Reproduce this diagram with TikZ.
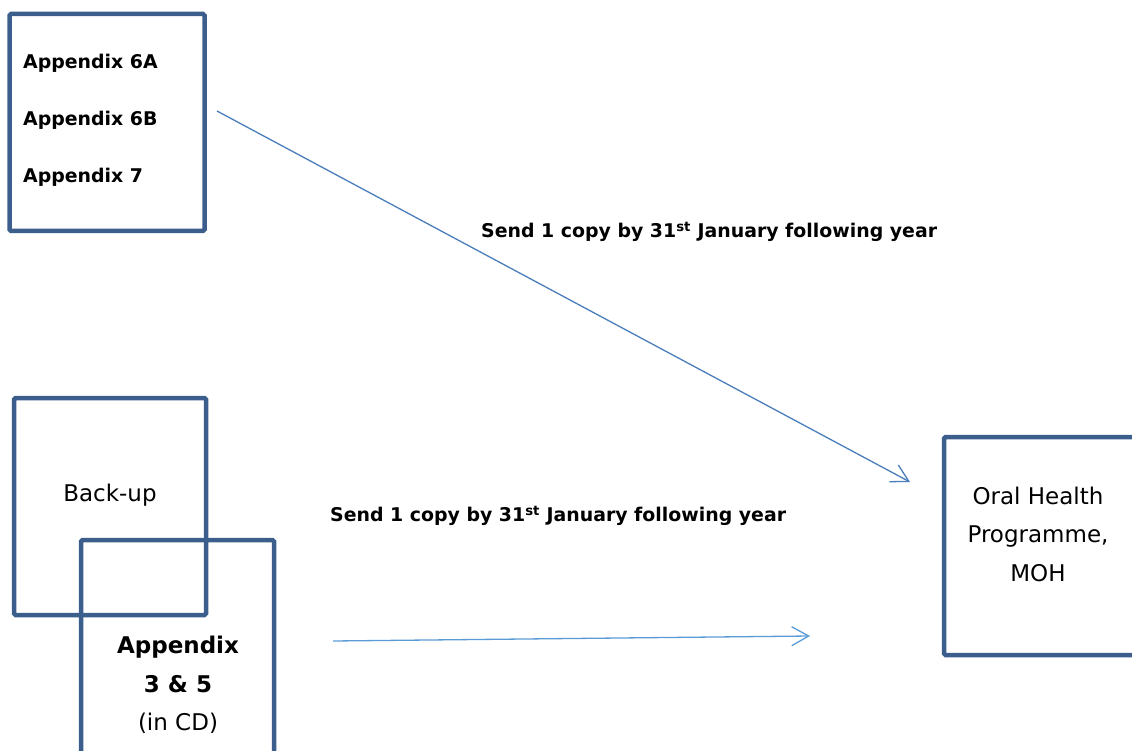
\documentclass[tikz,border=0pt]{standalone}
\usepackage{fontspec}
\setmainfont{DejaVu Sans}
\usetikzlibrary{arrows.meta}
\definecolor{boxblue}{HTML}{3B5E8C}
\definecolor{arrowblue}{HTML}{4A7EBB}
\definecolor{arrowlight}{HTML}{5B9BD5}
\tikzset{
  frame/.style={draw=boxblue, line width=4.5pt, rounded corners=1.5pt, inner sep=0pt},
  smallbold/.style={font=\fontsize{18.9}{22}\selectfont\bfseries, inner sep=0pt},
  bigtext/.style={font=\fontsize{23}{38.5}\selectfont, inner sep=0pt, align=center},
  sendarrow/.style={line width=1.3pt, -{Straight Barb[length=17pt,width=19pt]}},
}
\begin{document}
\begin{tikzpicture}[x=1pt,y=-1pt]
\useasboundingbox (0,0) rectangle (1132,751);
\clip (0,0) rectangle (1132,751);

% source box with the three appendices
\node[frame, minimum width=195pt, minimum height=217pt] (src) at (107,122.5) {};
\node[smallbold, anchor=west] (a6a) at (23,63) {Appendix 6A};
\node[smallbold, anchor=west] (a6b) at (23,120) {Appendix 6B};
\node[smallbold, anchor=west] (a7) at (23,177) {Appendix 7};

% back-up and CD boxes
\node[frame, minimum width=192pt, minimum height=217pt] (backup) at (110,506.5) {};
\node[bigtext] (backuptxt) at (110,495) {Back-up};
\node[frame, minimum width=193pt, minimum height=260pt] (cd) at (177.5,670) {};
\node[bigtext] (cdtxt) at (178,685) {\textbf{Appendix}\\\textbf{3 \& 5}\\(in CD)};

% destination box
\node[frame, minimum width=236pt, minimum height=218pt] (moh) at (1062,546) {};
\node[bigtext] (mohtxt) at (1038,534) {Oral Health\\Programme,\\MOH};

% connectors
\coordinate (s1) at (217,111);
\coordinate (e1) at (910,482);
\coordinate (s2) at (333,641);
\coordinate (e2) at (810,636);
\draw[sendarrow, draw=arrowblue] (s1) -- (e1);
\draw[sendarrow, draw=arrowlight] (s2) -- (e2);

\node[smallbold, anchor=west] (lab1) at (481,232) {Send 1 copy by 31\textsuperscript{st} January following year};
\node[smallbold, anchor=west] (lab2) at (330,516) {Send 1 copy by 31\textsuperscript{st} January following year};
\end{tikzpicture}
\end{document}
